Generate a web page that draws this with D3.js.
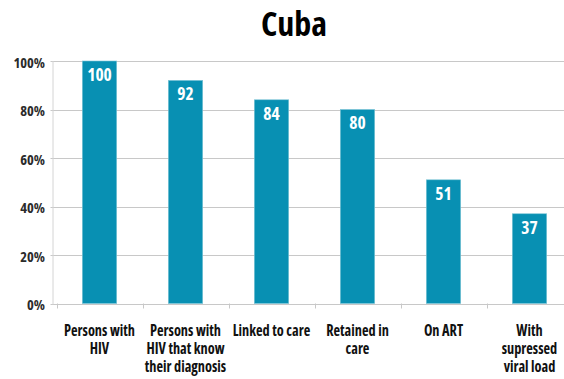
<!DOCTYPE html>
<html>
<head>
<meta charset="utf-8">
<script src="https://cdn.jsdelivr.net/npm/d3@7"></script>
<style>
  html, body { margin: 0; padding: 0; background: #fff; }
  svg { display: block; }
  text { font-family: "Open Sans", "DejaVu Sans", sans-serif; font-weight: bold; font-stretch: 75%; }
</style>
</head>
<body>
<svg id="chart" width="564" height="379"></svg>
<script>
// HIV care cascade, Cuba
const title = "Cuba";
const categories = [
  ["Persons with", "HIV"],
  ["Persons with", "HIV that know", "their diagnosis"],
  ["Linked to care"],
  ["Retained in", "care"],
  ["On ART"],
  ["With", "supressed", "viral load"]
];
const values = [100, 92, 84, 80, 51, 37];
const yTicks = [0, 20, 40, 60, 80, 100];

const svg = d3.select("#chart");
const W = 564, H = 379;
const plotLeft = 56.5, plotTop = 61, plotBottom = 303.5;
const band = 86;

const x = d3.scaleBand()
  .domain(d3.range(categories.length))
  .range([plotLeft, plotLeft + band * categories.length])
  .paddingInner(0.6)
  .paddingOuter(0.3);

const y = d3.scaleLinear().domain([0, 100]).range([plotBottom, plotTop]);

// Squeeze a text selection horizontally around its anchor so that a sample
// string comes out at the wanted width (keeps a condensed look whatever font is found).
function condense(sel, sample, width) {
  const probe = svg.append("text").attr("font-size", sel.attr("font-size")).text(sample);
  const k = Math.min(1, width / probe.node().getComputedTextLength());
  probe.remove();
  sel.each(function () {
    const ax = +this.getAttribute("x");
    this.setAttribute("transform", `translate(${ax},0) scale(${k},1) translate(${-ax},0)`);
  });
}

// title
const titleText = svg.append("text")
  .attr("x", 294)
  .attr("y", 36)
  .attr("text-anchor", "middle")
  .attr("font-size", 34)
  .attr("fill", "#000")
  .text(title);
condense(titleText, title, 70);

// horizontal gridlines
svg.append("g")
  .selectAll("line")
  .data(yTicks)
  .join("line")
  .attr("x1", plotLeft - 6)
  .attr("x2", W)
  .attr("y1", d => Math.round(y(d)) + 0.5)
  .attr("y2", d => Math.round(y(d)) + 0.5)
  .attr("stroke", "#c8c8c8")
  .attr("stroke-width", 1);

// y axis line
svg.append("line")
  .attr("x1", plotLeft - 3.5).attr("x2", plotLeft - 3.5)
  .attr("y1", y(100)).attr("y2", y(0) + 1)
  .attr("stroke", "#d4d4d4");

// x axis tick marks between categories
svg.append("g")
  .selectAll("line")
  .data(d3.range(categories.length + 1))
  .join("line")
  .attr("x1", i => Math.round(plotLeft + i * band) + 0.5)
  .attr("x2", i => Math.round(plotLeft + i * band) + 0.5)
  .attr("y1", y(0))
  .attr("y2", y(0) + 5)
  .attr("stroke", "#c8c8c8");

// y tick labels
const yLabels = svg.append("g")
  .selectAll("text")
  .data(yTicks)
  .join("text")
  .attr("x", 45)
  .attr("y", d => y(d) + 6.5)
  .attr("text-anchor", "end")
  .attr("font-size", 14.5)
  .attr("fill", "#2b2b2b")
  .text(d => d + "%");
condense(yLabels, "100%", 36);

// bars
svg.append("g")
  .selectAll("rect")
  .data(values)
  .join("rect")
  .attr("x", (d, i) => x(i))
  .attr("y", d => y(d))
  .attr("width", x.bandwidth())
  .attr("height", d => y(0) - y(d))
  .attr("fill", "#0890b3")
  .attr("stroke", "#7cc4d6")
  .attr("stroke-width", 0.6);

// value labels inside bars
const valueLabels = svg.append("g")
  .selectAll("text")
  .data(values)
  .join("text")
  .attr("x", (d, i) => x(i) + x.bandwidth() / 2)
  .attr("y", d => y(d) + 19.8)
  .attr("text-anchor", "middle")
  .attr("font-size", 17.5)
  .attr("fill", "#fff")
  .text(d => d);
condense(valueLabels, "100", 26);

// category labels
const cat = svg.append("g")
  .selectAll("text")
  .data(categories)
  .join("text")
  .attr("x", (d, i) => x(i) + x.bandwidth() / 2)
  .attr("y", 336)
  .attr("text-anchor", "middle")
  .attr("font-size", 15.5)
  .attr("fill", "#111");

cat.selectAll("tspan")
  .data(d => d)
  .join("tspan")
  .attr("x", function () { return this.parentNode.getAttribute("x"); })
  .attr("dy", (d, j) => j === 0 ? 0 : 18)
  .text(d => d);
condense(cat, "Persons with", 71);
</script>
</body>
</html>
